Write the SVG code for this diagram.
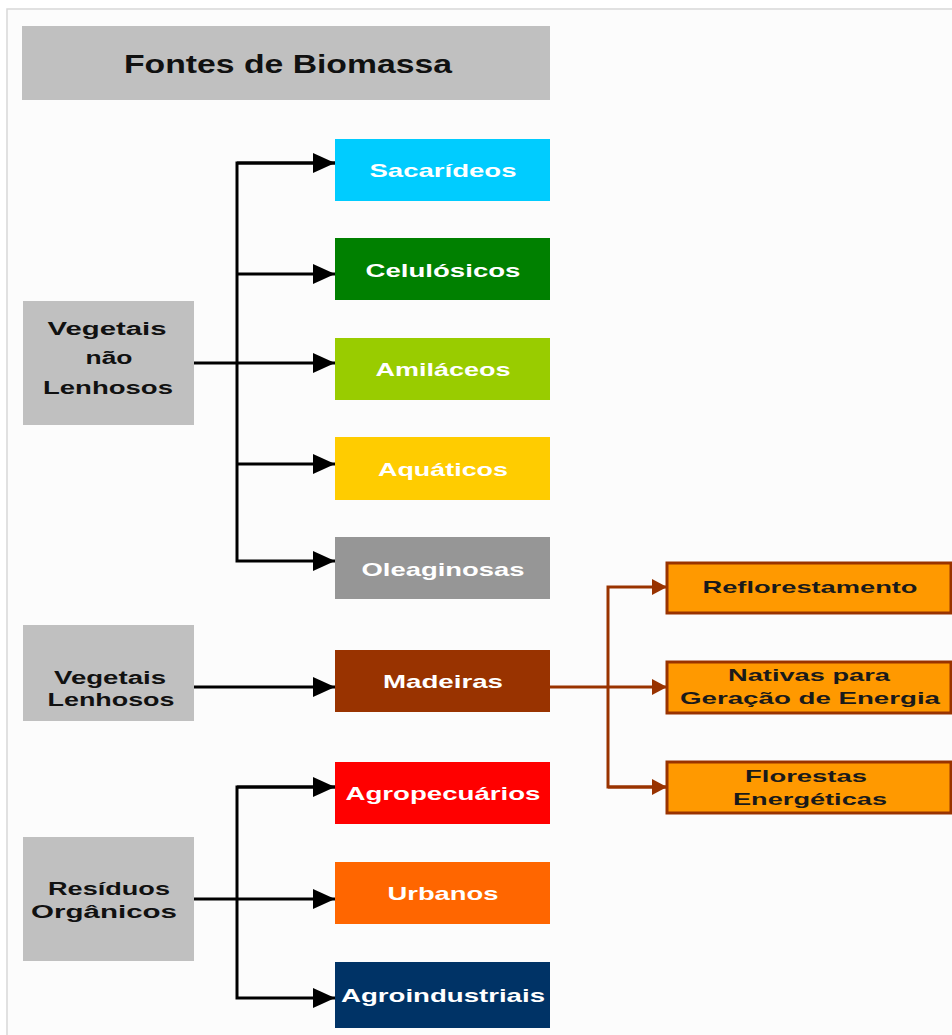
<svg xmlns="http://www.w3.org/2000/svg" width="952" height="1035" viewBox="0 0 952 1035">
<defs>
<style>
text{font-family:"Liberation Sans",Arial,sans-serif;font-weight:bold;text-anchor:middle}
.lbl{font-size:19px;fill:#ffffff}
.dk{font-size:18px;fill:#111111}
.og{font-size:17px;fill:#1a1a1a}
.gray{fill:#c0c0c0}
.k{stroke:#000;stroke-width:3;fill:none}
.b{stroke:#993300;stroke-width:3;fill:none}
.obox{fill:#ff9900;stroke:#993300;stroke-width:3}
</style>
<marker id="ak" markerUnits="userSpaceOnUse" markerWidth="22" markerHeight="22" refX="22" refY="11" orient="auto"><path d="M0,1 L22,11 L0,21 z" fill="#000"/></marker>
<marker id="ab" markerUnits="userSpaceOnUse" markerWidth="16" markerHeight="18" refX="15" refY="9" orient="auto"><path d="M0,1 L15,9 L0,17 z" fill="#993300"/></marker>
</defs>
<rect x="0" y="0" width="952" height="1035" fill="#ffffff"/>
<rect x="7" y="9" width="946" height="1030" fill="#fcfcfc" stroke="#d8d8d8" stroke-width="1.5"/>

<g id="title"><rect class="gray" x="22" y="26" width="528" height="74"/><text x="288" y="73" style="font-size:25px;fill:#111" textLength="328" lengthAdjust="spacingAndGlyphs">Fontes de Biomassa</text></g>

<g id="connectors">
<path class="k" d="M194,363 L335,363" marker-end="url(#ak)"/>
<path class="k" d="M335,163 L237,163 L237,561 L335,561" marker-end="url(#ak)"/>
<path class="k" d="M237,274 L335,274" marker-end="url(#ak)"/>
<path class="k" d="M237,464 L335,464" marker-end="url(#ak)"/>
<path class="k" d="M237,163 L335,163" marker-end="url(#ak)"/>
<path class="k" d="M194,687 L335,687" marker-end="url(#ak)"/>
<path class="k" d="M194,899 L335,899" marker-end="url(#ak)"/>
<path class="k" d="M335,787 L237,787 L237,998 L335,998" marker-end="url(#ak)"/>
<path class="k" d="M237,787 L335,787" marker-end="url(#ak)"/>
<path class="b" d="M550,687 L667,687" marker-end="url(#ab)"/>
<path class="b" d="M667,787 L608,787 L608,587 L667,587" marker-end="url(#ab)"/>
<path class="b" d="M608,787 L667,787" marker-end="url(#ab)"/>
</g>

<g id="n-vnl"><rect class="gray" x="23" y="301" width="171" height="124"/>
<text class="dk" x="107" y="335" textLength="119" lengthAdjust="spacingAndGlyphs">Vegetais</text>
<text class="dk" x="109" y="364" textLength="47" lengthAdjust="spacingAndGlyphs">não</text>
<text class="dk" x="108" y="394" textLength="130" lengthAdjust="spacingAndGlyphs">Lenhosos</text></g>

<g id="n-vl"><rect class="gray" x="23" y="625" width="171" height="96"/>
<text class="dk" x="110" y="684" textLength="112" lengthAdjust="spacingAndGlyphs">Vegetais</text>
<text class="dk" x="111" y="706" textLength="127" lengthAdjust="spacingAndGlyphs">Lenhosos</text></g>

<g id="n-ro"><rect class="gray" x="23" y="837" width="171" height="124"/>
<text class="dk" x="109" y="895" textLength="122" lengthAdjust="spacingAndGlyphs">Resíduos</text>
<text class="dk" x="104" y="918" textLength="146" lengthAdjust="spacingAndGlyphs">Orgânicos</text></g>

<g id="n-sac"><rect x="335" y="139" width="215" height="62" fill="#00ccff"/><text class="lbl" x="443" y="177" textLength="147" lengthAdjust="spacingAndGlyphs">Sacarídeos</text></g>
<g id="n-cel"><rect x="335" y="238" width="215" height="62" fill="#008000"/><text class="lbl" x="443" y="277" textLength="155" lengthAdjust="spacingAndGlyphs">Celulósicos</text></g>
<g id="n-ami"><rect x="335" y="338" width="215" height="62" fill="#99cc00"/><text class="lbl" x="443" y="376" textLength="135" lengthAdjust="spacingAndGlyphs">Amiláceos</text></g>
<g id="n-aqu"><rect x="335" y="437" width="215" height="63" fill="#ffcc00"/><text class="lbl" x="443" y="476" textLength="130" lengthAdjust="spacingAndGlyphs">Aquáticos</text></g>
<g id="n-ole"><rect x="335" y="537" width="215" height="62" fill="#969696"/><text class="lbl" x="443" y="576" textLength="163" lengthAdjust="spacingAndGlyphs">Oleaginosas</text></g>
<g id="n-mad"><rect x="335" y="650" width="215" height="62" fill="#993300"/><text class="lbl" x="443" y="688" textLength="120" lengthAdjust="spacingAndGlyphs">Madeiras</text></g>
<g id="n-agp"><rect x="335" y="762" width="215" height="62" fill="#ff0000"/><text class="lbl" x="443" y="800" textLength="195" lengthAdjust="spacingAndGlyphs">Agropecuários</text></g>
<g id="n-urb"><rect x="335" y="862" width="215" height="62" fill="#ff6600"/><text class="lbl" x="443" y="900" textLength="111" lengthAdjust="spacingAndGlyphs">Urbanos</text></g>
<g id="n-agi"><rect x="335" y="962" width="215" height="66" fill="#003366"/><text class="lbl" x="443" y="1002" textLength="204" lengthAdjust="spacingAndGlyphs">Agroindustriais</text></g>

<g id="n-ref"><rect class="obox" x="667" y="563" width="284" height="50"/><text class="og" x="810" y="593" textLength="215" lengthAdjust="spacingAndGlyphs">Reflorestamento</text></g>
<g id="n-nat"><rect class="obox" x="667" y="662" width="284" height="51"/>
<text class="og" x="809" y="681" textLength="162" lengthAdjust="spacingAndGlyphs">Nativas para</text>
<text class="og" x="810" y="704" textLength="260" lengthAdjust="spacingAndGlyphs">Geração de Energia</text></g>
<g id="n-flo"><rect class="obox" x="667" y="762" width="284" height="51"/>
<text class="og" x="806" y="782" textLength="122" lengthAdjust="spacingAndGlyphs">Florestas</text>
<text class="og" x="810" y="805" textLength="154" lengthAdjust="spacingAndGlyphs">Energéticas</text></g>
</svg>
